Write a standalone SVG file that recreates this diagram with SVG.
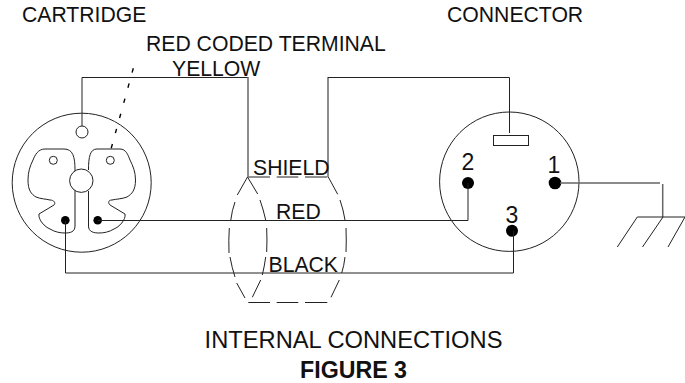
<svg xmlns="http://www.w3.org/2000/svg" width="685" height="383" viewBox="0 0 685 383">
<style>
text{font-family:"Liberation Sans",Arial,sans-serif;fill:#111;font-size:21.2px}
.l{fill:none;stroke:#222;stroke-width:1}
.g{fill:none;stroke:#666;stroke-width:1.5}
.d{fill:#000}
.w{fill:#fff;stroke:#222;stroke-width:1}
</style>
<rect width="685" height="383" fill="#fff"/>
<g id="cartridge">
<circle class="l" cx="81.700" cy="182.700" r="69.500"/>
<path class="l" d="M75 170C75 157 73 149 64 149L45 149C38 149 35 155 33 160C30 166 28 172 28 180C28 190 31 194 36 197C41 199 46 199 50 200C54 200 56 203 54 205L39 214C38 220 45 227 50 229C55 232 60 233 65 233C70 233 75 232 75 226"/>
<path class="g" d="M75 226V170"/>
<path class="l" d="M88.500 170C88.500 157 90 149 97 149L120 149C126 149 128 155 130 160C133 166 135.500 172 135.500 180C135.500 190 132 194 127 197C122 199 116 199 112 200C108 200 108 203 110 205L125 214C126 220 119 227 114 229C109 232 104 233 99 233C94 233 88.500 232 88.500 226L88.500 191"/>
<circle class="w" cx="81.300" cy="180.700" r="11.700"/>
<circle class="w" cx="82" cy="132" r="6"/>
<circle class="w" cx="53.300" cy="160.300" r="4"/>
<circle class="w" cx="110.300" cy="160.300" r="4"/>
<circle class="d" cx="65.300" cy="220.300" r="4.300"/>
<circle class="d" cx="97.700" cy="220.300" r="4.300"/>
</g>
<g id="connector">
<circle class="l" cx="509.300" cy="181.700" r="69.700"/>
<rect class="w" x="493.500" y="135.500" width="35" height="10"/>
<circle class="d" cx="468" cy="183" r="6"/>
<circle class="d" cx="555" cy="183" r="6.300"/>
<circle class="d" cx="512" cy="230.700" r="6"/>
<text x="468" y="169.500" text-anchor="middle" style="font-size:23px">2</text>
<text x="554" y="172.500" text-anchor="middle" style="font-size:23px">1</text>
<text x="512" y="222.500" text-anchor="middle" style="font-size:23px">3</text>
</g>
<g id="ground">
<path class="g" d="M560 183H660M662.700 184V217"/>
<path class="l" d="M637.300 217H685M637.300 217L617.300 247M663 217L642.500 247M685 217L668 247"/>
</g>
<g id="shield">
<path class="l" d="M247.500 177L237.300 195M235 202Q232 210 230.700 220.700M229.300 228Q228.500 240 229 253M230 257Q232 268 235 277M236.700 283L245 298"/>
<path class="l" d="M247.500 177L257.700 194M260 200Q263.500 210 265.700 220M266.700 228Q267.200 240 266.700 252M265.700 257Q264.500 266 262.300 275M260.700 280L252.300 297.300"/>
<path class="l" d="M328.300 177L337.700 194.300M340 200Q343.500 210 345 220M346 228Q346.500 240 346 252M345 257Q344 266 341.700 273M339.300 280L331 297.300"/>
<path class="l" d="M248.300 177H270M276.700 177H298.300M305 177H327.300M248.300 302.500H270M276.700 302.500H298.300M305 302.500H327.300"/>
</g>
<g id="connectors">
<path class="l" d="M82 126V77.500H248"/>
<path class="g" d="M248 77V177"/>
<path class="g" d="M328 177V77"/>
<path class="l" d="M328 77.500H509.500V133"/>
<path class="l" d="M98 220.500H468V183"/>
<path class="l" d="M65.500 221V273H513.500V231"/>
<path fill="none" stroke="#000" stroke-width="1.400" stroke-dasharray="4.500 11.200" d="M133.300 68.300L110 152.700"/>
</g>
<g id="labels">
<text x="22" y="21.500">CARTRIDGE</text>
<text x="447" y="21.500">CONNECTOR</text>
<text x="146" y="51">RED CODED TERMINAL</text>
<text x="172" y="75.500">YELLOW</text>
<text x="253" y="175">SHIELD</text>
<text x="276" y="219">RED</text>
<text x="268.500" y="271.500">BLACK</text>
<text x="353.500" y="347.700" text-anchor="middle" style="font-size:23.700px">INTERNAL CONNECTIONS</text>
<text x="353.500" y="377.500" text-anchor="middle" font-weight="bold" style="font-size:23.200px">FIGURE 3</text>
</g>
</svg>
